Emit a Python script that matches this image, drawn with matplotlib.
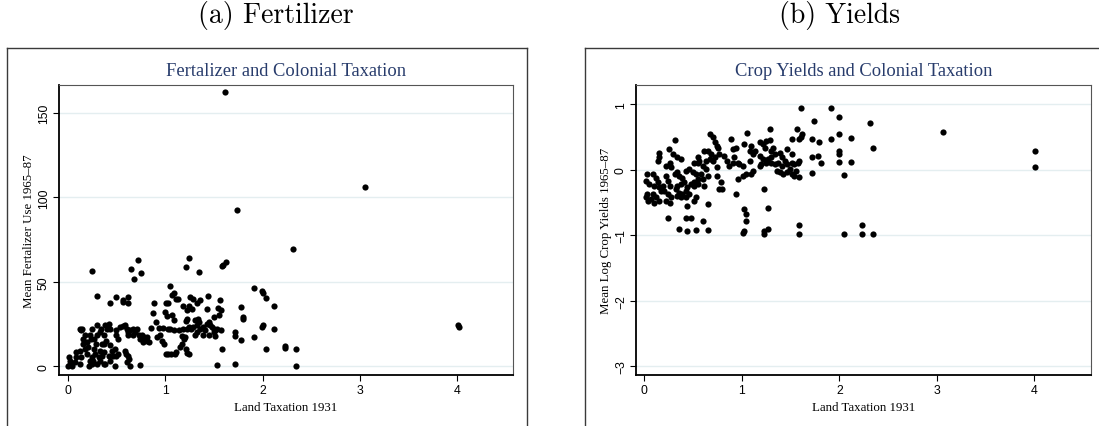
import matplotlib
matplotlib.use("Agg")
import matplotlib.pyplot as plt
from matplotlib.lines import Line2D

# ---------------- data: panel (a) fertilizer ----------------
fert_tax = [
    0.01, 0.02, 0.02, 0.04, 0.00, 0.08, 0.09, 0.09, 0.13, 0.14,
    0.13, 0.16, 0.16, 0.15, 0.14, 0.18, 0.20, 0.21, 0.20, 0.23,
    0.25, 0.22, 0.26, 0.30, 0.33, 0.35, 0.37, 0.33, 0.29, 0.27,
    0.30, 0.34, 0.33, 0.37, 0.40, 0.38, 0.42, 0.43, 0.39, 0.43,
    0.45, 0.42, 0.43, 0.38, 0.37, 0.47, 0.49, 0.50, 0.52, 0.49,
    0.52, 0.50, 0.50, 0.54, 0.57, 0.59, 0.61, 0.62, 0.64, 0.67,
    0.69, 0.67, 0.62, 0.59, 0.60, 0.62, 0.63, 0.61, 0.64, 0.74,
    0.71, 0.73, 0.74, 0.76, 0.78, 0.79, 0.81, 0.83, 0.81, 0.77,
    0.30, 0.13, 0.25, 0.23, 0.27, 0.18, 0.24, 0.28, 0.32, 0.35,
    0.37, 0.25,
    0.25, 0.30, 0.72, 0.65, 0.75, 0.68, 0.50, 0.43, 0.57, 0.62,
    0.62, 0.57,
    1.21, 1.24, 1.35, 1.59, 1.62, 1.58, 1.91, 1.99, 2.00, 2.04,
    2.12, 1.78, 1.80, 1.80, 2.00, 1.99, 2.12, 1.91, 1.78, 1.72,
    1.72, 2.04, 2.23, 2.23, 2.34, 2.34, 1.72, 1.53, 1.58, 1.56,
    1.57, 1.54, 1.55, 1.50, 1.44, 1.43, 1.36, 1.33, 1.29, 1.26,
    1.24, 1.28, 1.22, 1.18, 1.05, 1.09, 1.07, 1.11, 1.13, 1.01,
    1.03, 0.89, 0.88, 0.91, 0.86, 0.94, 0.98, 1.02, 1.00, 1.07,
    1.09, 1.05, 1.03, 1.09, 1.14, 0.95, 0.92, 0.97, 0.99, 1.01,
    1.03, 1.06, 1.10, 1.11, 1.15, 1.17, 1.19, 1.20, 1.22, 1.24,
    1.27, 1.29, 1.33, 1.35, 1.34, 1.31, 1.36, 1.39, 1.41, 1.43,
    1.45, 1.46, 1.48, 1.50, 1.51, 1.17, 1.18, 1.21, 1.22, 1.25,
    1.21, 1.22, 1.31, 1.33, 1.39, 1.45, 1.50, 1.53, 1.57, 1.51,
    1.61, 1.74, 3.05, 2.31, 4.01, 4.02,
]
fert_use = [
    5.3, 3.4, 1.4, 0.4, 0.4, 2.4, 5.3, 8.3, 1.4, 5.3,
    9.3, 13.3, 16.2, 22.2, 21.2, 18.2, 14.3, 11.3, 7.3, 3.4,
    1.4, 0.4, 3.4, 1.4, 3.4, 6.3, 1.4, 9.3, 13.3, 16.2,
    18.6, 22.2, 20.2, 18.2, 22.2, 24.2, 25.1, 22.2, 15.2, 12.3,
    9.3, 6.3, 3.4, 1.4, 8.3, 6.3, 10.3, 6.3, 7.3, 0.4,
    16.2, 18.2, 21.2, 23.2, 23.8, 24.2, 22.2, 20.2, 21.2, 22.2,
    20.2, 18.2, 18.2, 9.3, 7.3, 6.3, 4.4, 2.4, 0.4, 0.8,
    22.2, 18.2, 16.2, 18.2, 17.2, 16.2, 15.2, 14.3, 17.2, 14.3,
    24.2, 22.2, 22.2, 18.6, 10.3, 10.3, 16.2, 7.3, 5.3, 13.3,
    13.3, 5.3,
    56.2, 41.4, 62.8, 57.8, 55.2, 51.5, 41.0, 37.6, 39.4, 41.0,
    37.6, 38.0,
    58.8, 64.2, 55.8, 60.2, 61.8, 59.4, 46.5, 44.4, 43.6, 40.4,
    35.8, 35.2, 29.1, 28.1, 24.2, 23.2, 22.2, 17.2, 15.8, 17.8,
    20.2, 10.3, 11.7, 10.7, 10.3, 0.0, 1.4, 1.0, 10.3, 39.0,
    33.1, 34.7, 30.5, 29.1, 41.4, 34.1, 39.0, 37.6, 39.6, 41.0,
    35.6, 34.1, 33.1, 35.4, 47.3, 43.6, 42.0, 40.0, 40.0, 37.6,
    37.6, 37.6, 31.7, 26.1, 22.6, 22.6, 22.6, 29.5, 32.1, 30.1,
    27.1, 22.2, 22.2, 21.2, 21.2, 18.2, 17.2, 15.2, 13.3, 7.3,
    7.3, 7.3, 7.3, 8.3, 11.3, 13.3, 16.2, 17.6, 22.2, 23.2,
    22.2, 23.2, 24.2, 26.1, 28.1, 27.1, 22.2, 23.2, 21.2, 25.1,
    26.1, 24.2, 23.2, 22.2, 21.2, 17.8, 22.2, 10.3, 7.9, 7.3,
    26.5, 28.1, 18.2, 20.2, 18.2, 18.2, 20.2, 22.2, 21.2, 17.8,
    162.0, 92.5, 106.3, 69.2, 24.2, 23.2,
]

# ---------------- data: panel (b) yields ----------------
yld_tax = [
    0.31, 0.67, 0.70, 0.89, 1.05, 0.25, 0.15, 0.15, 0.14, 0.29,
    0.34, 0.38, 0.26, 0.22, 0.27, 0.03, 0.02, 0.05, 0.03, 0.04,
    0.02, 0.09, 0.12, 0.14, 0.15, 0.17, 0.19, 0.10, 0.09, 0.12,
    0.15, 0.10, 0.07, 0.22, 0.24, 0.26, 0.20, 0.24, 0.27, 0.22,
    0.26, 0.31, 0.34, 0.36, 0.39, 0.41, 0.38, 0.34, 0.32, 0.36,
    0.39, 0.43, 0.38, 0.34, 0.43, 0.46, 0.50, 0.53, 0.55, 0.51,
    0.48, 0.44, 0.43, 0.46, 0.51, 0.55, 0.58, 0.60, 0.61, 0.60,
    0.56, 0.55, 0.61, 0.65, 0.68, 0.73, 0.77, 0.82, 0.75, 0.73,
    0.76, 0.51, 0.55, 0.63, 0.67, 0.70, 0.63, 0.65, 0.75, 0.75,
    0.79, 0.77, 0.80, 0.85, 0.87, 0.91, 0.92, 0.91, 0.94, 0.96,
    0.97, 1.01, 0.96, 1.01, 1.04, 1.09, 1.11, 1.08, 1.11, 1.09,
    1.02, 1.13, 1.08, 0.94, 0.65, 0.53, 0.51, 0.44, 0.24, 0.36,
    0.43, 0.48, 0.44, 0.53, 0.60, 0.65, 1.02, 1.04, 1.04, 1.02,
    1.01, 1.23, 1.23, 1.23,
    1.61, 1.91, 2.00, 1.74, 2.31, 1.29, 1.57, 1.62, 1.61, 1.59,
    1.51, 1.72, 1.79, 1.91, 2.00, 2.12, 2.34, 2.00, 2.00, 1.78,
    1.72, 1.81, 2.00, 2.12, 1.72, 2.05, 1.19, 1.22, 1.25, 1.29,
    1.24, 1.32, 1.30, 1.19, 1.22, 1.27, 1.30, 1.34, 1.39, 1.41,
    1.46, 1.51, 1.44, 1.37, 1.34, 1.30, 1.25, 1.20, 1.19, 1.41,
    1.46, 1.51, 1.54, 1.58, 1.59, 1.36, 1.39, 1.42, 1.46, 1.51,
    1.53, 1.56, 1.59, 1.49, 1.27, 1.27, 1.59, 1.59, 2.05, 2.23,
    2.23, 2.34, 3.06, 4.01, 4.01,
]
yld_log = [
    0.46, 0.55, 0.50, 0.47, 0.56, 0.32, 0.25, 0.19, 0.14, 0.24,
    0.19, 0.16, 0.11, 0.06, 0.04, -0.07, -0.17, -0.22, -0.37, -0.47,
    -0.42, -0.07, -0.12, -0.19, -0.27, -0.32, -0.24, -0.24, -0.37, -0.42,
    -0.47, -0.50, -0.45, -0.09, -0.17, -0.24, -0.32, -0.37, -0.42, -0.47,
    -0.50, -0.07, -0.04, -0.09, -0.12, -0.19, -0.22, -0.24, -0.30, -0.35,
    -0.37, -0.42, -0.42, -0.40, -0.02, 0.01, -0.03, -0.07, -0.14, -0.19,
    -0.22, -0.27, -0.32, -0.37, -0.24, -0.22, -0.07, -0.14, -0.24, 0.06,
    0.14, 0.19, 0.29, 0.28, 0.24, 0.19, 0.24, 0.21, 0.37, 0.43,
    0.34, 0.11, 0.11, 0.14, 0.16, 0.14, 0.01, -0.09, 0.04, -0.09,
    -0.19, -0.30, -0.30, 0.14, 0.06, 0.11, 0.19, 0.32, 0.34, 0.11,
    0.09, 0.06, -0.14, -0.09, -0.07, -0.07, -0.02, 0.14, 0.24, 0.37,
    0.39, 0.29, 0.29, -0.37, -0.52, -0.42, -0.47, -0.55, -0.73, -0.91,
    -0.74, -0.73, -0.93, -0.92, -0.78, -0.92, -0.60, -0.68, -0.78, -0.93,
    -0.96, -0.93, -0.98, -0.30,
    0.94, 0.94, 0.81, 0.75, 0.71, 0.63, 0.63, 0.55, 0.50, 0.47,
    0.47, 0.47, 0.42, 0.47, 0.55, 0.48, 0.34, 0.29, 0.24, 0.21,
    0.20, 0.11, 0.12, 0.12, -0.05, -0.08, 0.42, 0.39, 0.44, 0.45,
    0.34, 0.34, 0.29, 0.21, 0.16, 0.16, 0.19, 0.24, 0.26, 0.19,
    0.32, 0.24, 0.14, 0.11, 0.09, 0.11, 0.11, 0.09, 0.06, 0.06,
    0.09, 0.11, 0.09, 0.11, 0.14, -0.02, -0.04, -0.07, -0.04, -0.07,
    -0.09, -0.02, -0.11, 0.01, -0.58, -0.91, -0.84, -0.98, -0.98, -0.84,
    -0.98, -0.98, 0.57, 0.29, 0.04,
]

panel_titles = ["(a) Fertilizer", "(b) Yields"]
inner_titles = ["Fertalizer and Colonial Taxation", "Crop Yields and Colonial Taxation"]
x_label = "Land Taxation 1931"
y_labels = ["Mean Fertalizer Use 1965\u201387", "Mean Log Crop Yields 1965\u201387"]
fert_ticks = [0, 50, 100, 150]
yld_ticks = [-3, -2, -1, 0, 1]
x_ticks = [0, 1, 2, 3, 4]

W, H = 1099, 427
fig = plt.figure(figsize=(W / 100, H / 100), dpi=100)
fig.patch.set_facecolor("white")

SERIF = ["Liberation Serif", "DejaVu Serif"]
SANS = ["Liberation Sans", "DejaVu Sans"]
TITLE_COLOR = "#283c6c"


def fx(px):
    return px / W


def fy(py):
    return 1 - py / H


# outer boxes (graph regions)
for (x0, x1) in [(7, 527.3), (585, 1110)]:
    for xs, ys in [([x0, x0], [49, 440]), ([x1, x1], [49, 440]), ([x0, x1], [49, 49])]:
        fig.add_artist(Line2D([fx(v) for v in xs], [fy(v) for v in ys],
                              color="#3a3a3a", lw=1.0, transform=fig.transFigure))

axes_px = [(58.7, 513.0), (636.0, 1091.0)]
top_px, bot_px = 85.7, 375.7

datasets = [
    (fert_tax, fert_use, fert_ticks, (-5.0, 166.6)),
    (yld_tax, yld_log, yld_ticks, (-3.13, 1.30)),
]
xlims = [(-0.092, 4.57), (-0.085, 4.58)]
panel_centers = [276, 840]

for i, ((l, r), (xs, ys, yt, ylim)) in enumerate(zip(axes_px, datasets)):
    ax = fig.add_axes([fx(l), fy(bot_px), (r - l) / W, (bot_px - top_px) / H])
    ax.scatter(xs, ys, s=20, color="black", linewidths=0, zorder=3)
    ax.set_xlim(*xlims[i])
    ax.set_ylim(*ylim)
    ax.set_xticks(x_ticks)
    ax.set_yticks(yt)
    ax.set_yticklabels([str(t).replace("-", "\u2212") for t in yt],
                       rotation=90, va="center", fontfamily=SANS, fontsize=8.8)
    ax.set_xticklabels([str(t) for t in x_ticks], fontfamily=SANS, fontsize=8.8)
    ax.yaxis.grid(True, color="#e4eef0", lw=1.0, zorder=0)
    ax.set_axisbelow(True)
    ax.tick_params(direction="out", length=4, width=0.8, color="black", pad=2.5)
    for s in ["left", "bottom"]:
        ax.spines[s].set_color("black")
        ax.spines[s].set_linewidth(1.3)
    for s in ["top", "right"]:
        ax.spines[s].set_color("#555555")
        ax.spines[s].set_linewidth(0.8)
    ax.set_xlabel(x_label, fontfamily=SERIF, fontsize=9.3, labelpad=4)
    ax.set_ylabel(y_labels[i], fontfamily=SERIF, fontsize=9.3, labelpad=2)
    fig.text(fx((l + r) / 2), fy(72), inner_titles[i], ha="center", va="center",
             fontfamily=SERIF, fontsize=13.3, color=TITLE_COLOR)
    fig.text(fx(panel_centers[i]), fy(15), panel_titles[i], ha="center", va="center",
             fontfamily=["cmr10", "DejaVu Serif"], fontsize=20, color="black")

fig.savefig("out.png", dpi=100, facecolor="white")
